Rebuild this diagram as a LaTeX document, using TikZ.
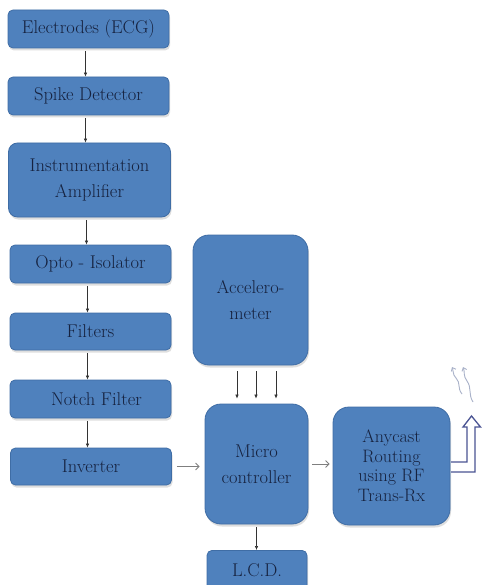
\documentclass[tikz,border=0pt]{standalone}
\usepackage{fontspec}
\usetikzlibrary{arrows.meta,shadows,calc}
\definecolor{boxblue}{HTML}{4F81BD}
\definecolor{boxedge}{HTML}{3F6DA5}
\definecolor{txt}{HTML}{16223F}
\definecolor{arrgray}{HTML}{7F7F7F}
\definecolor{antedge}{HTML}{4A5493}
\definecolor{wavecol}{HTML}{A9B2C9}
\begin{document}
\begin{tikzpicture}[x=1pt,y=-1pt,
  box/.style={draw=boxedge, line width=0.8pt, fill=boxblue, text=txt, align=center,
    inner sep=0pt, font=\rmfamily\fontsize{18.5}{26}\selectfont,
    drop shadow={shadow xshift=1pt, shadow yshift=-2.5pt, fill=black!25, opacity=0.5}},
  small/.style={box, rounded corners=5pt, minimum width=161pt, minimum height=38pt},
  big/.style={box, rounded corners=16pt},
  darr/.style={draw=black!80, line width=0.6pt, -{Latex[length=4pt,width=3.5pt]}},
  garr/.style={draw=arrgray, line width=0.8pt, -{Straight Barb[length=3.5pt,width=7pt]}},
  wavy/.style={draw=wavecol, line width=0.9pt, -{Straight Barb[length=3pt,width=5pt]}}
]
\useasboundingbox (0,0) rectangle (484,585);
\fill[white] (0,0) rectangle (484,585);

% left column
\node[small] (elec) at (88.5,29) {Electrodes (ECG)};
\node[small] (spike) at (88.5,96) {Spike Detector};
\node[box, rounded corners=9pt, minimum width=162pt, minimum height=74pt] (instr) at (89.5,180) {Instrumentation\\Amplifier};
\node[small] (opto) at (90.5,264) {Opto - Isolator};
\node[small, minimum height=37pt] (filt) at (90.5,331.5) {Filters};
\node[small] (notch) at (90.5,399) {\hspace*{12pt}Notch Filter};
\node[small, minimum height=37pt] (inv) at (91,466.5) {Inverter};

% right part
\node[big, minimum width=115pt, minimum height=130pt] (acc) at (250.5,300) {Accelero-\\meter};
\node[big, minimum width=103pt, minimum height=120pt] (micro) at (256.5,464) {Micro\\controller};
\node[small, minimum width=100pt, minimum height=40pt, anchor=north] (lcd) at (257,550) {L.C.D.};
\node[big, minimum width=117pt, minimum height=118pt, font=\rmfamily\fontsize{18}{19.5}\selectfont] (any) at (391.5,466) {Anycast\\Routing\\using RF\\Trans-Rx};

% vertical arrows left column
\foreach \a/\b in {elec/spike, spike/instr, instr/opto, opto/filt, filt/notch, notch/inv}
  \draw[darr, shorten <=3pt] ($(\a.south)+(-3,0)$) -- ($(\a.south |- \b.north)+(-3,0)$);

% accelerometer to micro controller
\foreach \d in {-19.5,-0.5,19.5}
  \draw[darr, shorten <=6pt, shorten >=5pt] ($(micro.north |- acc.south)+(\d,0)$) -- ($(micro.north)+(\d,0)$);

% micro controller to LCD
\draw[darr, shorten <=3pt] (micro.south) -- (micro.south |- lcd.north);

% horizontal gray arrows
\draw[garr, shorten <=5pt, shorten >=5pt] (inv.east) -- (inv.east -| micro.west);
\draw[garr, shorten <=4pt, shorten >=3pt] (micro.east) -- (micro.east -| any.west);

% antenna block arrow
\draw[antedge, fill=white, line width=1.3pt, line join=miter]
  (451,462) -- (467,462) -- (467,427) -- (463,427) -- (471.5,416) -- (480.5,427)
  -- (475,427) -- (475,472) -- (451,472);

% radio waves
\draw[wavy] (462,394) .. controls (457,388) and (461,383) .. (456,378)
  .. controls (452,374) and (454,371) .. (452,367);
\draw[wavy] (473,402) .. controls (468,394) and (472,388) .. (467,381)
  .. controls (463,376) and (465,372) .. (463,367);
\end{tikzpicture}
\end{document}
